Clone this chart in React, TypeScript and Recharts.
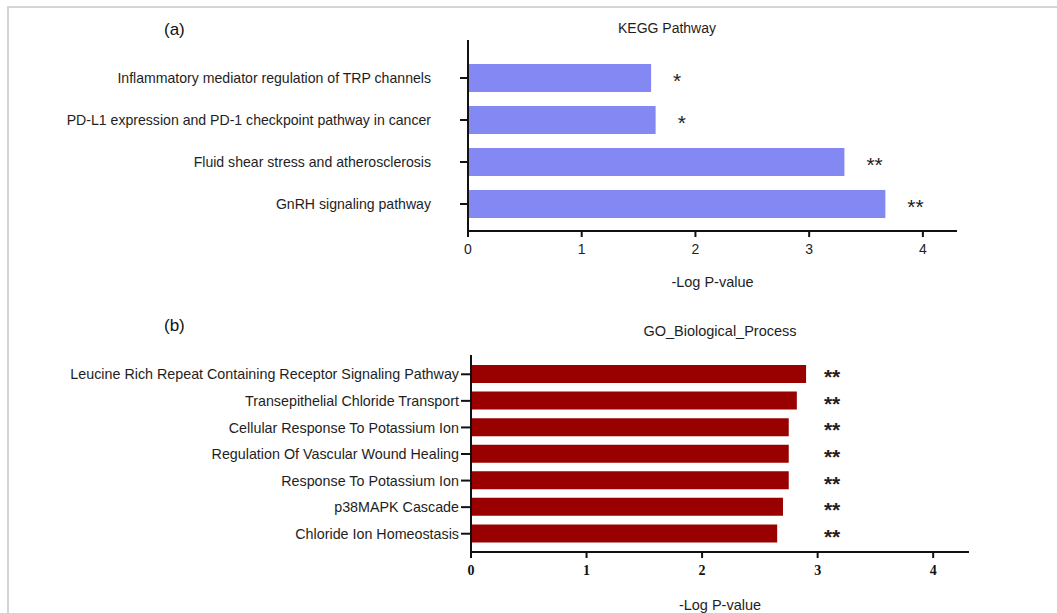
import React from 'react';
import { BarChart, Bar, XAxis, YAxis, LabelList, ReferenceDot, Label } from 'recharts';

const keggPathways = [
  'Inflammatory mediator regulation of TRP channels',
  'PD-L1 expression and PD-1 checkpoint pathway in cancer',
  'Fluid shear stress and atherosclerosis',
  'GnRH signaling pathway',
];
const keggValues = [1.61, 1.65, 3.31, 3.67];
const keggSignif = ['*', '*', '**', '**'];

const goProcesses = [
  'Leucine Rich Repeat Containing Receptor Signaling Pathway',
  'Transepithelial Chloride Transport',
  'Cellular Response To Potassium Ion',
  'Regulation Of Vascular Wound Healing',
  'Response To Potassium Ion',
  'p38MAPK Cascade',
  'Chloride Ion Homeostasis',
];
const goValues = [2.9, 2.82, 2.75, 2.75, 2.75, 2.7, 2.65];
const goSignif = ['**', '**', '**', '**', '**', '**', '**'];

const xTicks = [0, 1, 2, 3, 4];

const keggData = keggPathways.map((name, i) => ({ name, value: keggValues[i], sig: keggSignif[i] }));
const goData = goProcesses.map((name, i) => ({ name, value: goValues[i], sig: goSignif[i] }));

const SANS = '"Liberation Sans", Arial, Helvetica, sans-serif';
const SERIF = '"Liberation Serif", "Times New Roman", serif';
const TEXT = '#1e1e1e';
const GO_STAR_X = 3.125;

const StarLabel = (props: any) => {
  const { x, y, width, height, value } = props;
  return (
    <text x={x + width + 22} y={y + height / 2 + 10} fontSize={21} fill={TEXT} fontFamily={SANS}>
      {value}
    </text>
  );
};

const GoStar = (props: any) => {
  const { viewBox, value } = props;
  const cx = viewBox.x + viewBox.width / 2;
  const cy = viewBox.y + viewBox.height / 2;
  return (
    <text x={cx} y={cy + 10} textAnchor="middle" fontSize={21} fontWeight="bold" fill={TEXT} fontFamily={SANS}>
      {value}
    </text>
  );
};

export default function App() {
  return (
    <div style={{ position: 'absolute', left: 0, top: 0, width: 1057, height: 613, background: '#fff', overflow: 'hidden' }}>
      <div style={{ position: 'absolute', left: 7, top: 6, right: 0, bottom: 0, borderLeft: '2px solid #d4d4d4', borderTop: '2px solid #d4d4d4' }} />
      <div style={{ position: 'absolute', left: 164, top: 20, fontFamily: SANS, fontSize: 17, color: '#111' }}>(a)</div>
      <div style={{ position: 'absolute', left: 164, top: 316, fontFamily: SANS, fontSize: 17, color: '#111' }}>(b)</div>
      <div style={{ position: 'absolute', left: 567, width: 200, textAlign: 'center', top: 20, fontFamily: SANS, fontSize: 14, color: TEXT }}>KEGG Pathway</div>
      <div style={{ position: 'absolute', left: 620, width: 200, textAlign: 'center', top: 323, fontFamily: SANS, fontSize: 14.5, color: TEXT }}>GO_Biological_Process</div>

      <div style={{ position: 'absolute', left: 0, top: 0 }}>
        <BarChart
          width={1057}
          height={300}
          data={keggData}
          layout="vertical"
          margin={{ top: 40, right: 100, bottom: 9, left: 0 }}
        >
          <XAxis
            type="number"
            domain={[0, 4.3]}
            ticks={xTicks}
            allowDataOverflow
            height={60}
            axisLine={{ stroke: '#111', strokeWidth: 2 }}
            tickLine={{ stroke: '#111', strokeWidth: 2 }}
            tickSize={6}
            tickMargin={7}
            tick={{ fill: TEXT, fontSize: 14, fontFamily: SANS }}
          >
            <Label value="-Log P-value" position="insideBottom" offset={4} fill={TEXT} fontSize={14.5} fontFamily={SANS} />
          </XAxis>
          <YAxis
            type="category"
            dataKey="name"
            width={468}
            padding={{ top: 17, bottom: 6 }}
            axisLine={{ stroke: '#111', strokeWidth: 2 }}
            tickLine={{ stroke: '#111', strokeWidth: 2 }}
            tickSize={8}
            tickMargin={29}
            interval={0}
            tick={{ fill: TEXT, fontSize: 14.1, fontFamily: SANS }}
          />
          <Bar dataKey="value" fill="#8488f2" barSize={28} isAnimationActive={false}>
            <LabelList dataKey="sig" content={<StarLabel />} />
          </Bar>
        </BarChart>
      </div>

      <div style={{ position: 'absolute', left: 0, top: 300 }}>
        <BarChart
          width={1057}
          height={313}
          data={goData}
          layout="vertical"
          margin={{ top: 55, right: 88, bottom: 0, left: 0 }}
        >
          <XAxis
            type="number"
            domain={[0, 4.31]}
            ticks={xTicks}
            allowDataOverflow
            height={61}
            axisLine={{ stroke: '#111', strokeWidth: 2 }}
            tickLine={{ stroke: '#111', strokeWidth: 2 }}
            tickSize={6}
            tickMargin={7}
            tick={{ fill: '#111', fontSize: 14, fontFamily: SERIF, fontWeight: 'bold' }}
          >
            <Label value="-Log P-value" position="insideBottom" offset={3} fill={TEXT} fontSize={14.5} fontFamily={SANS} />
          </XAxis>
          <YAxis
            type="category"
            dataKey="name"
            width={471}
            padding={{ top: 6, bottom: 5 }}
            axisLine={{ stroke: '#111', strokeWidth: 2 }}
            tickLine={{ stroke: '#111', strokeWidth: 2 }}
            tickSize={10}
            tickMargin={2}
            interval={0}
            tick={{ fill: TEXT, fontSize: 14.3, fontFamily: SANS }}
          />
          <Bar dataKey="value" fill="#990000" barSize={18} isAnimationActive={false} />
          {goData.map((d) => (
            <ReferenceDot
              key={d.name}
              x={GO_STAR_X}
              y={d.name}
              r={1}
              fill="none"
              stroke="none"
              label={<GoStar value={d.sig} />}
            />
          ))}
        </BarChart>
      </div>
    </div>
  );
}
